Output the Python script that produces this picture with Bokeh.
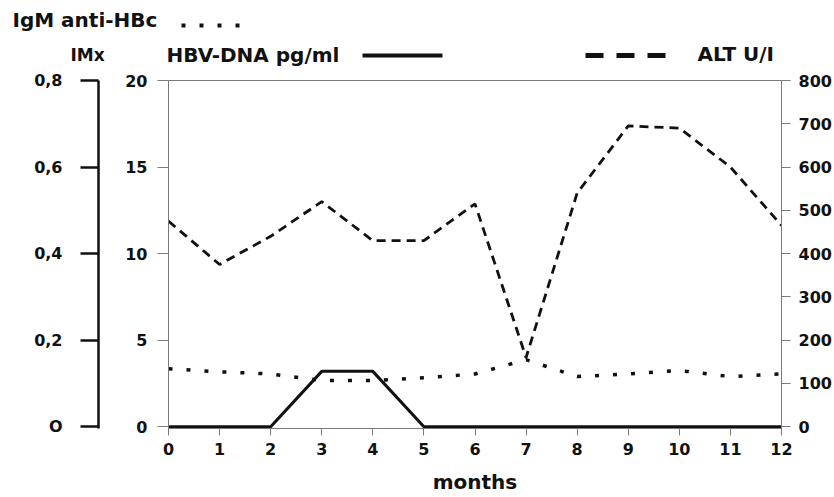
from bokeh.plotting import figure
from bokeh.layouts import column
from bokeh.models import Range1d, LinearAxis, FixedTicker, CustomJSTickFormatter
from bokeh.core.properties import value
from bokeh.embed import file_html
from bokeh.resources import INLINE

# ---- data -------------------------------------------------------------
months = [0, 1, 2, 3, 4, 5, 6, 7, 8, 9, 10, 11, 12]
hbv_dna = [0, 0, 0, 3.2, 3.2, 0, 0, 0, 0, 0, 0, 0, 0]                 # pg/ml
alt = [475, 375, 440, 520, 430, 430, 515, 160, 540, 695, 690, 600, 465]  # U/l
igm_imx = [0.134, 0.127, 0.122, 0.107, 0.107, 0.113, 0.122, 0.155,
           0.116, 0.122, 0.130, 0.116, 0.122]                             # IMx index

month_ticks = list(range(13))
hbv_ticks = [0, 5, 10, 15, 20]
alt_ticks = [0, 100, 200, 300, 400, 500, 600, 700, 800]
imx_ticks = [0, 0.2, 0.4, 0.6, 0.8]

# ---- geometry (pixels) ------------------------------------------------
W = 834
HEAD_H = 70          # strip holding the series names and line keys
MAIN_H = 427
LEFT, RIGHT, TOP, BOTTOM = 168, 53, 10, 69
PAD = 0.005          # small bottom padding so the zero-level line is not clipped

FONT = "DejaVu Sans"
INK = "#111111"
AXIS_GREY = "#7a7a7a"
TEXT_SHIFT = -7      # text glyph baseline correction in the header strip

# ---- header strip: series names with their line keys --------------------
head = figure(width=W, height=HEAD_H, x_range=Range1d(0, W), y_range=Range1d(HEAD_H, 0),
              output_backend="svg", toolbar_location=None, title=None,
              x_axis_location=None, y_axis_location=None, min_border=0)
head.frame_align = False
head.outline_line_color = None
head.xgrid.visible = False
head.ygrid.visible = False
head.background_fill_color = "white"
head.border_fill_color = "white"


def head_text(xs, ys, texts, align="left", size="20px", font=FONT):
    head.text(x=xs, y=[y + TEXT_SHIFT for y in ys], text=texts, text_font=value(font),
              text_font_style="bold", text_font_size=value(size), text_color=INK,
              text_align=align, text_baseline="alphabetic")


head_text([12, 166, 697], [26.7, 61.7, 60], ["IgM anti-HBc", "HBV-DNA pg/ml", "ALT U/I"])
head_text([87], [61.7], ["IMx"], align="center", size="17px")
head.line([181, 239], [25, 25], line_color=INK, line_width=4, line_dash="4 14")
head.line([362, 442], [55, 55], line_color=INK, line_width=4)
head.line([585, 665], [55, 55], line_color=INK, line_width=5, line_dash="18 13")

# ---- main chart -------------------------------------------------------
def padded(lo, hi):
    return Range1d(lo - PAD * (hi - lo), hi)


p = figure(width=W, height=MAIN_H, x_range=Range1d(0, 12), y_range=padded(0, 20),
           output_backend="svg", toolbar_location=None, title=None,
           min_border_left=LEFT, min_border_right=RIGHT,
           min_border_top=TOP, min_border_bottom=BOTTOM)
p.frame_align = False
p.extra_y_ranges = {"alt": padded(0, 800), "imx": padded(0, 0.8)}
p.background_fill_color = "white"
p.border_fill_color = "white"
p.outline_line_color = AXIS_GREY
p.outline_line_width = 1
p.xgrid.visible = False
p.ygrid.visible = False


def style_axis(ax, color, width, tick_out, standoff):
    ax.axis_line_color = color
    ax.axis_line_width = width
    ax.major_tick_line_color = color
    ax.major_tick_line_width = width
    ax.major_tick_out = tick_out
    ax.major_tick_in = 0
    ax.minor_tick_line_color = None
    ax.major_label_standoff = standoff
    ax.major_label_text_font = FONT
    ax.major_label_text_font_style = "bold"
    ax.major_label_text_font_size = "16px"
    ax.major_label_text_color = INK


# months axis
xa = p.xaxis[0]
xa.ticker = FixedTicker(ticks=month_ticks)
style_axis(xa, AXIS_GREY, 1, 7, 7)
xa.axis_label = "months"
xa.axis_label_text_font = FONT
xa.axis_label_text_font_style = "bold"
xa.axis_label_text_font_size = "20px"
xa.axis_label_text_color = INK
xa.axis_label_standoff = 12

# HBV-DNA axis (next to the frame); its hidden label widens the panel so the
# IMx axis sits further out
ya = p.yaxis[0]
ya.ticker = FixedTicker(ticks=hbv_ticks)
style_axis(ya, AXIS_GREY, 1, 11, 10)
ya.axis_label = "."
ya.axis_label_text_alpha = 0
ya.axis_label_text_font_size = "10px"
ya.axis_label_standoff = 13

# IMx axis (outer left)
imx_axis = LinearAxis(y_range_name="imx", ticker=FixedTicker(ticks=imx_ticks),
                      formatter=CustomJSTickFormatter(
                          code="return tick == 0 ? 'O' : tick.toFixed(1).replace('.', ',');"))
style_axis(imx_axis, INK, 2.5, 18, 18)
p.add_layout(imx_axis, "left")

# ALT axis (right)
alt_axis = LinearAxis(y_range_name="alt", ticker=FixedTicker(ticks=alt_ticks))
style_axis(alt_axis, AXIS_GREY, 1, 9, 8)
p.add_layout(alt_axis, "right")

# ---- series -----------------------------------------------------------
p.line(months, igm_imx, y_range_name="imx", line_color=INK, line_width=3.5,
       line_dash="4 14")
p.line(months, alt, y_range_name="alt", line_color=INK, line_width=2.8,
       line_dash="9 6")
p.line(months, hbv_dna, line_color=INK, line_width=3)

layout = column(head, p, spacing=0)
open("out.html", "w").write(file_html(layout, INLINE))
